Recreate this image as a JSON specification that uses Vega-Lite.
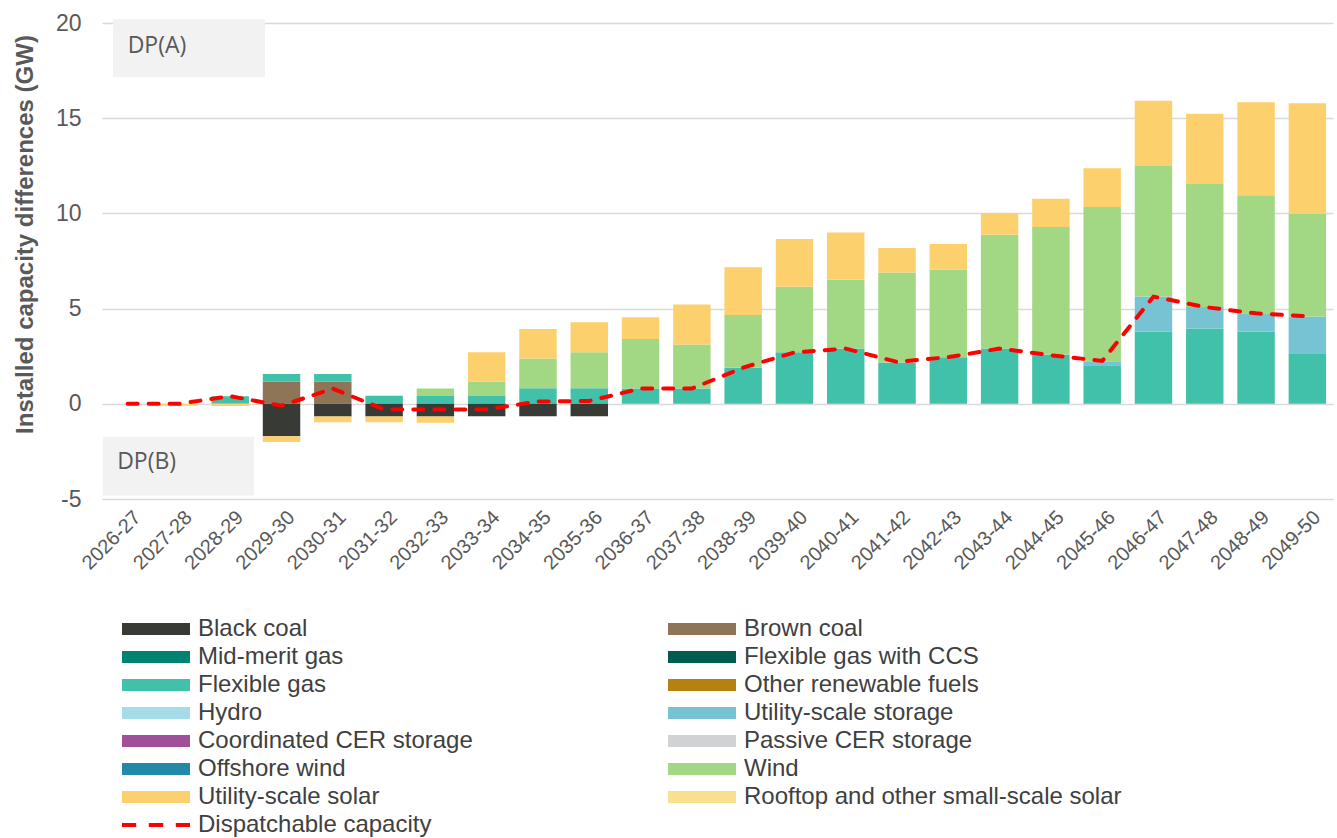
{
  "$schema": "https://vega.github.io/schema/vega-lite/v6.json",
  "autosize": "none",
  "width": 1231,
  "height": 476,
  "padding": {"left": 102, "top": 23, "right": 4, "bottom": 339},
  "config": {"view": {"stroke": null}, "font": "Liberation Sans"},
  "datasets": {
    "bars": [
      {"year": "2027-28", "fuel": "Utility-scale solar", "value": -0.1},
      {"year": "2028-29", "fuel": "Flexible gas", "value": 0.4},
      {"year": "2028-29", "fuel": "Utility-scale solar", "value": -0.12},
      {"year": "2029-30", "fuel": "Brown coal", "value": 1.17},
      {"year": "2029-30", "fuel": "Flexible gas", "value": 0.4},
      {"year": "2029-30", "fuel": "Black coal", "value": -1.7},
      {"year": "2029-30", "fuel": "Utility-scale solar", "value": -0.3},
      {"year": "2030-31", "fuel": "Brown coal", "value": 1.17},
      {"year": "2030-31", "fuel": "Flexible gas", "value": 0.4},
      {"year": "2030-31", "fuel": "Black coal", "value": -0.67},
      {"year": "2030-31", "fuel": "Utility-scale solar", "value": -0.3},
      {"year": "2031-32", "fuel": "Flexible gas", "value": 0.42},
      {"year": "2031-32", "fuel": "Black coal", "value": -0.67},
      {"year": "2031-32", "fuel": "Utility-scale solar", "value": -0.3},
      {"year": "2032-33", "fuel": "Flexible gas", "value": 0.41},
      {"year": "2032-33", "fuel": "Wind", "value": 0.4},
      {"year": "2032-33", "fuel": "Black coal", "value": -0.67},
      {"year": "2032-33", "fuel": "Utility-scale solar", "value": -0.33},
      {"year": "2033-34", "fuel": "Flexible gas", "value": 0.41},
      {"year": "2033-34", "fuel": "Wind", "value": 0.76},
      {"year": "2033-34", "fuel": "Utility-scale solar", "value": 1.54},
      {"year": "2033-34", "fuel": "Black coal", "value": -0.66},
      {"year": "2034-35", "fuel": "Flexible gas", "value": 0.82},
      {"year": "2034-35", "fuel": "Wind", "value": 1.56},
      {"year": "2034-35", "fuel": "Utility-scale solar", "value": 1.55},
      {"year": "2034-35", "fuel": "Black coal", "value": -0.66},
      {"year": "2035-36", "fuel": "Flexible gas", "value": 0.82},
      {"year": "2035-36", "fuel": "Wind", "value": 1.89},
      {"year": "2035-36", "fuel": "Utility-scale solar", "value": 1.57},
      {"year": "2035-36", "fuel": "Black coal", "value": -0.66},
      {"year": "2036-37", "fuel": "Flexible gas", "value": 0.8},
      {"year": "2036-37", "fuel": "Wind", "value": 2.6},
      {"year": "2036-37", "fuel": "Utility-scale solar", "value": 1.15},
      {"year": "2037-38", "fuel": "Flexible gas", "value": 0.8},
      {"year": "2037-38", "fuel": "Wind", "value": 2.31},
      {"year": "2037-38", "fuel": "Utility-scale solar", "value": 2.11},
      {"year": "2038-39", "fuel": "Flexible gas", "value": 1.89},
      {"year": "2038-39", "fuel": "Wind", "value": 2.78},
      {"year": "2038-39", "fuel": "Utility-scale solar", "value": 2.5},
      {"year": "2039-40", "fuel": "Flexible gas", "value": 2.71},
      {"year": "2039-40", "fuel": "Wind", "value": 3.44},
      {"year": "2039-40", "fuel": "Utility-scale solar", "value": 2.51},
      {"year": "2040-41", "fuel": "Flexible gas", "value": 2.9},
      {"year": "2040-41", "fuel": "Wind", "value": 3.61},
      {"year": "2040-41", "fuel": "Utility-scale solar", "value": 2.49},
      {"year": "2041-42", "fuel": "Flexible gas", "value": 2.17},
      {"year": "2041-42", "fuel": "Wind", "value": 4.72},
      {"year": "2041-42", "fuel": "Utility-scale solar", "value": 1.29},
      {"year": "2042-43", "fuel": "Flexible gas", "value": 2.45},
      {"year": "2042-43", "fuel": "Wind", "value": 4.6},
      {"year": "2042-43", "fuel": "Utility-scale solar", "value": 1.34},
      {"year": "2043-44", "fuel": "Flexible gas", "value": 2.9},
      {"year": "2043-44", "fuel": "Wind", "value": 5.98},
      {"year": "2043-44", "fuel": "Utility-scale solar", "value": 1.14},
      {"year": "2044-45", "fuel": "Flexible gas", "value": 2.57},
      {"year": "2044-45", "fuel": "Wind", "value": 6.72},
      {"year": "2044-45", "fuel": "Utility-scale solar", "value": 1.48},
      {"year": "2045-46", "fuel": "Flexible gas", "value": 2.03},
      {"year": "2045-46", "fuel": "Utility-scale storage", "value": 0.21},
      {"year": "2045-46", "fuel": "Wind", "value": 8.09},
      {"year": "2045-46", "fuel": "Utility-scale solar", "value": 2.04},
      {"year": "2046-47", "fuel": "Flexible gas", "value": 3.79},
      {"year": "2046-47", "fuel": "Utility-scale storage", "value": 1.84},
      {"year": "2046-47", "fuel": "Wind", "value": 6.86},
      {"year": "2046-47", "fuel": "Utility-scale solar", "value": 3.42},
      {"year": "2047-48", "fuel": "Flexible gas", "value": 3.95},
      {"year": "2047-48", "fuel": "Utility-scale storage", "value": 1.13},
      {"year": "2047-48", "fuel": "Wind", "value": 6.46},
      {"year": "2047-48", "fuel": "Utility-scale solar", "value": 3.69},
      {"year": "2048-49", "fuel": "Flexible gas", "value": 3.79},
      {"year": "2048-49", "fuel": "Utility-scale storage", "value": 0.96},
      {"year": "2048-49", "fuel": "Wind", "value": 6.2},
      {"year": "2048-49", "fuel": "Utility-scale solar", "value": 4.89},
      {"year": "2049-50", "fuel": "Flexible gas", "value": 2.65},
      {"year": "2049-50", "fuel": "Utility-scale storage", "value": 1.94},
      {"year": "2049-50", "fuel": "Wind", "value": 5.39},
      {"year": "2049-50", "fuel": "Utility-scale solar", "value": 5.81}
    ],
    "dispatch": [
      {"year": "2026-27", "value": 0},
      {"year": "2027-28", "value": 0},
      {"year": "2028-29", "value": 0.4},
      {"year": "2029-30", "value": -0.1},
      {"year": "2030-31", "value": 0.8},
      {"year": "2031-32", "value": -0.3},
      {"year": "2032-33", "value": -0.3},
      {"year": "2033-34", "value": -0.3},
      {"year": "2034-35", "value": 0.12},
      {"year": "2035-36", "value": 0.15},
      {"year": "2036-37", "value": 0.8},
      {"year": "2037-38", "value": 0.8},
      {"year": "2038-39", "value": 1.9},
      {"year": "2039-40", "value": 2.7},
      {"year": "2040-41", "value": 2.9},
      {"year": "2041-42", "value": 2.2},
      {"year": "2042-43", "value": 2.45},
      {"year": "2043-44", "value": 2.9},
      {"year": "2044-45", "value": 2.55},
      {"year": "2045-46", "value": 2.25},
      {"year": "2046-47", "value": 5.63},
      {"year": "2047-48", "value": 5.08},
      {"year": "2048-49", "value": 4.75},
      {"year": "2049-50", "value": 4.6}
    ],
    "boxA": [{"label": "DP(A)", "year": "2026-27", "year2": "2029-30", "value": 20.2, "value2": 17.15, "ty": 18.78}],
    "boxB": [{"label": "DP(B)", "year": "2026-27", "year2": "2029-30", "value": -1.73, "value2": -4.82, "ty": -3.04}]
  },
  "layer": [
    {
      "data": {"name": "boxA"},
      "mark": {"type": "rect", "fill": "#F2F2F2"},
      "encoding": {
        "x": {"field": "year", "type": "nominal", "bandPosition": 0.11},
        "x2": {"field": "year2", "bandPosition": 0.06},
        "y": {"field": "value", "type": "quantitative"},
        "y2": {"field": "value2"}
      }
    },
    {
      "data": {"name": "boxB"},
      "mark": {"type": "rect", "fill": "#F2F2F2"},
      "encoding": {
        "x": {"field": "year", "type": "nominal", "bandPosition": -0.16},
        "x2": {"field": "year2", "bandPosition": -0.235},
        "y": {"field": "value", "type": "quantitative"},
        "y2": {"field": "value2"}
      }
    },
    {
      "data": {"name": "boxA"},
      "mark": {"type": "text", "align": "left", "baseline": "middle", "font": "Open Sans", "fontSize": 23, "color": "#595959"},
      "encoding": {
        "x": {"field": "year", "type": "nominal", "bandPosition": 0.5},
        "y": {"field": "ty", "type": "quantitative"},
        "text": {"field": "label"}
      }
    },
    {
      "data": {"name": "boxB"},
      "mark": {"type": "text", "align": "left", "baseline": "middle", "font": "Open Sans", "fontSize": 23, "color": "#595959"},
      "encoding": {
        "x": {"field": "year", "type": "nominal", "bandPosition": 0.22},
        "y": {"field": "ty", "type": "quantitative"},
        "text": {"field": "label"}
      }
    },
    {
      "data": {"name": "bars"},
      "transform": [
        {"calculate": "indexof(['Black coal','Brown coal','Mid-merit gas','Flexible gas with CCS','Flexible gas','Other renewable fuels','Hydro','Utility-scale storage','Coordinated CER storage','Passive CER storage','Offshore wind','Wind','Utility-scale solar','Rooftop and other small-scale solar'], datum.fuel)", "as": "ord"}
      ],
      "mark": {"type": "bar"},
      "encoding": {
        "x": {
          "field": "year", "type": "nominal",
          "scale": {
            "domain": ["2026-27","2027-28","2028-29","2029-30","2030-31","2031-32","2032-33","2033-34","2034-35","2035-36","2036-37","2037-38","2038-39","2039-40","2040-41","2041-42","2042-43","2043-44","2044-45","2045-46","2046-47","2047-48","2048-49","2049-50"],
            "paddingInner": 0.27, "paddingOuter": 0.135
          },
          "axis": {"title": null, "labelAngle": -45, "labelFontSize": 20, "labelColor": "#595959", "domain": false, "ticks": false, "tickSize": 0, "labelPadding": 15, "labelOffset": 10, "grid": false}
        },
        "y": {
          "field": "value", "type": "quantitative", "stack": "zero",
          "scale": {"domain": [-5, 20], "nice": false},
          "axis": {"title": "Installed capacity differences (GW)", "values": [-5, 0, 5, 10, 15, 20], "labelExpr": "'' + datum.value", "grid": true, "gridColor": "#D9D9D9", "gridWidth": 1.5, "domain": false, "ticks": false, "tickSize": 0, "labelPadding": 21, "labelFontSize": 23, "labelColor": "#595959", "titleFontSize": 24, "titleFontWeight": "bold", "titleColor": "#595959", "titleX": -77, "titleY": 211, "titleAlign": "center", "titleBaseline": "middle", "titleAngle": 270}
        },
        "color": {
          "field": "fuel", "type": "nominal",
          "scale": {
            "domain": ["Black coal","Mid-merit gas","Flexible gas","Hydro","Coordinated CER storage","Offshore wind","Utility-scale solar","Dispatchable capacity","Brown coal","Flexible gas with CCS","Other renewable fuels","Utility-scale storage","Passive CER storage","Wind","Rooftop and other small-scale solar"],
            "range": ["#383A36","#008270","#41C1A9","#A5DCE8","#A24F9A","#2289A8","#FDD06E","#FF0000","#8F7558","#005C4E","#B5810F","#77C3D4","#D0D2D3","#A2D884","#F9E08F"]
          },
          "legend": {
            "title": null, "orient": "none", "legendX": 42, "legendY": 594, "columns": 2,
            "columnPadding": 194, "rowPadding": 4, "symbolSize": 144,
            "symbolType": "M-5.667,-1H5.667V1H-5.667Z", "symbolStrokeWidth": 0,
            "labelFontSize": 24, "labelColor": "#404040", "labelOffset": 30, "labelLimit": 500,
            "encode": {
              "symbols": {
                "update": {
                  "shape": {"signal": "datum.value === 'Dispatchable capacity' ? 'M-5.667,-0.33H-3.3V0.33H-5.667Z M-1.2,-0.33H1.2V0.33H-1.2Z M3.3,-0.33H5.667V0.33H3.3Z' : 'M-5.667,-1H5.667V1H-5.667Z'"},
                  "fill": {"scale": "color", "field": "value"},
                  "opacity": {"value": 1},
                  "strokeWidth": {"value": 0}
                }
              }
            }
          }
        },
        "order": {"field": "ord", "type": "quantitative"}
      }
    },
    {
      "data": {"name": "dispatch"},
      "mark": {"type": "line", "color": "#FF0000", "strokeWidth": 4, "strokeDash": [10, 11], "strokeCap": "round"},
      "encoding": {
        "x": {"field": "year", "type": "nominal"},
        "y": {"field": "value", "type": "quantitative"}
      }
    }
  ]
}
